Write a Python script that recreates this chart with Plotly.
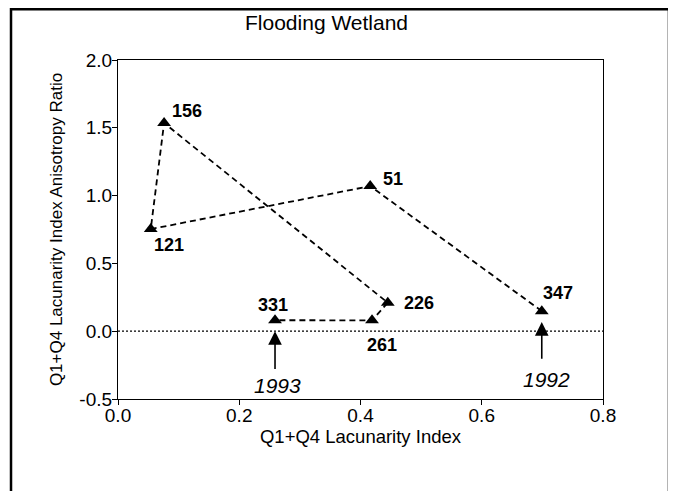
import plotly.graph_objects as go

# Data (path order: 1992 -> 1993)
days = ["347", "51", "121", "156", "226", "261", "331"]
lac_index = [0.699, 0.416, 0.054, 0.076, 0.445, 0.419, 0.259]
aniso_ratio = [0.148, 1.07, 0.753, 1.535, 0.21, 0.08, 0.081]
# label offsets in pixels (dx, dy) and anchors
label_dx = [-1, 11, 1, 6, 14, 10, -2]
label_dy = [18, 7, -16, 12, 0, -25, 15]
label_anchor = ["left", "left", "left", "left", "left", "center", "center"]

years = ["1992", "1993"]
year_x = [0.699, 0.259]
arrow_tip = [0.067, 0.0]
arrow_tail = [-0.215, -0.29]

x_ticks = [0.0, 0.2, 0.4, 0.6, 0.8]
y_ticks = [-0.5, 0.0, 0.5, 1.0, 1.5, 2.0]

FONT = "Liberation Sans, Arial, sans-serif"

fig = go.Figure()
fig.add_trace(go.Scatter(
    x=lac_index, y=aniso_ratio, mode="lines+markers",
    line=dict(color="black", width=1.8, dash="6px,4px"),
    marker=dict(symbol="triangle-up", size=12, color="black"),
    showlegend=False, hoverinfo="skip"))

anns = []
for d, xv, yv, dx, dy, an in zip(days, lac_index, aniso_ratio, label_dx, label_dy, label_anchor):
    anns.append(dict(x=xv, y=yv, xref="x", yref="y", text="<b>%s</b>" % d,
                     showarrow=False, xanchor=an, yanchor="middle",
                     xshift=dx, yshift=dy,
                     font=dict(family=FONT, size=18, color="black")))

year_yshift = [-6, -1]
year_xshift = [5, 2]
for yr, xv, tip, tail, ys, xs in zip(years, year_x, arrow_tip, arrow_tail, year_yshift, year_xshift):
    anns.append(dict(x=xv, y=tip, ax=xv, ay=tail, xref="x", yref="y",
                     axref="x", ayref="y", text="", showarrow=True,
                     arrowhead=2, arrowsize=1.7, arrowwidth=1.6, arrowcolor="black"))
    anns.append(dict(x=xv, y=tail, xref="x", yref="y", text="<i>%s</i>" % yr,
                     showarrow=False, xanchor="center", yanchor="top",
                     xshift=xs, yshift=ys,
                     font=dict(family=FONT, size=21, color="black")))

# title
anns.append(dict(x=0.429, y=1.112, xref="paper", yref="paper", text="Flooding Wetland",
                 showarrow=False, xanchor="center", yanchor="middle",
                 font=dict(family=FONT, size=21, color="black")))

fig.update_layout(
    width=676, height=491,
    margin=dict(l=110, r=81, t=52, b=100, autoexpand=False),
    paper_bgcolor="white", plot_bgcolor="white",
    annotations=anns,
    shapes=[
        dict(type="line", xref="x", yref="y", x0=0, x1=0.8, y0=0, y1=0,
             line=dict(color="black", width=1.2, dash="2px,2px")),
        dict(type="rect", xref="paper", yref="paper",
             x0=-0.2206, x1=1.136, y0=-0.3, y1=1.1496,
             line=dict(color="black", width=2.5), fillcolor="rgba(0,0,0,0)"),
    ],
    font=dict(family=FONT, color="black"),
)
fig.update_xaxes(range=[0, 0.8], tickvals=x_ticks, ticktext=["%.1f" % v for v in x_ticks],
                 ticks="outside", ticklen=5, tickcolor="black", tickwidth=1,
                 showline=True, linecolor="black", linewidth=1.2, mirror=True,
                 showgrid=False, zeroline=False, automargin=False,
                 ticklabelstandoff=-6,
                 tickfont=dict(family=FONT, size=19),
                 title=dict(text="Q1+Q4 Lacunarity Index", standoff=4,
                            font=dict(family=FONT, size=18.5)))
fig.update_yaxes(range=[-0.5, 2.0], tickvals=y_ticks, ticktext=["%.1f" % v for v in y_ticks],
                 ticks="outside", ticklen=5, tickcolor="black", tickwidth=1,
                 showline=True, linecolor="black", linewidth=1.2, mirror=True,
                 showgrid=False, zeroline=False, automargin=False,
                 ticklabelstandoff=-4,
                 tickfont=dict(family=FONT, size=19),
                 title=dict(text="Q1+Q4 Lacunarity Index Anisotropy Ratio", standoff=12,
                            font=dict(family=FONT, size=17)))

fig.write_html("out.html")
